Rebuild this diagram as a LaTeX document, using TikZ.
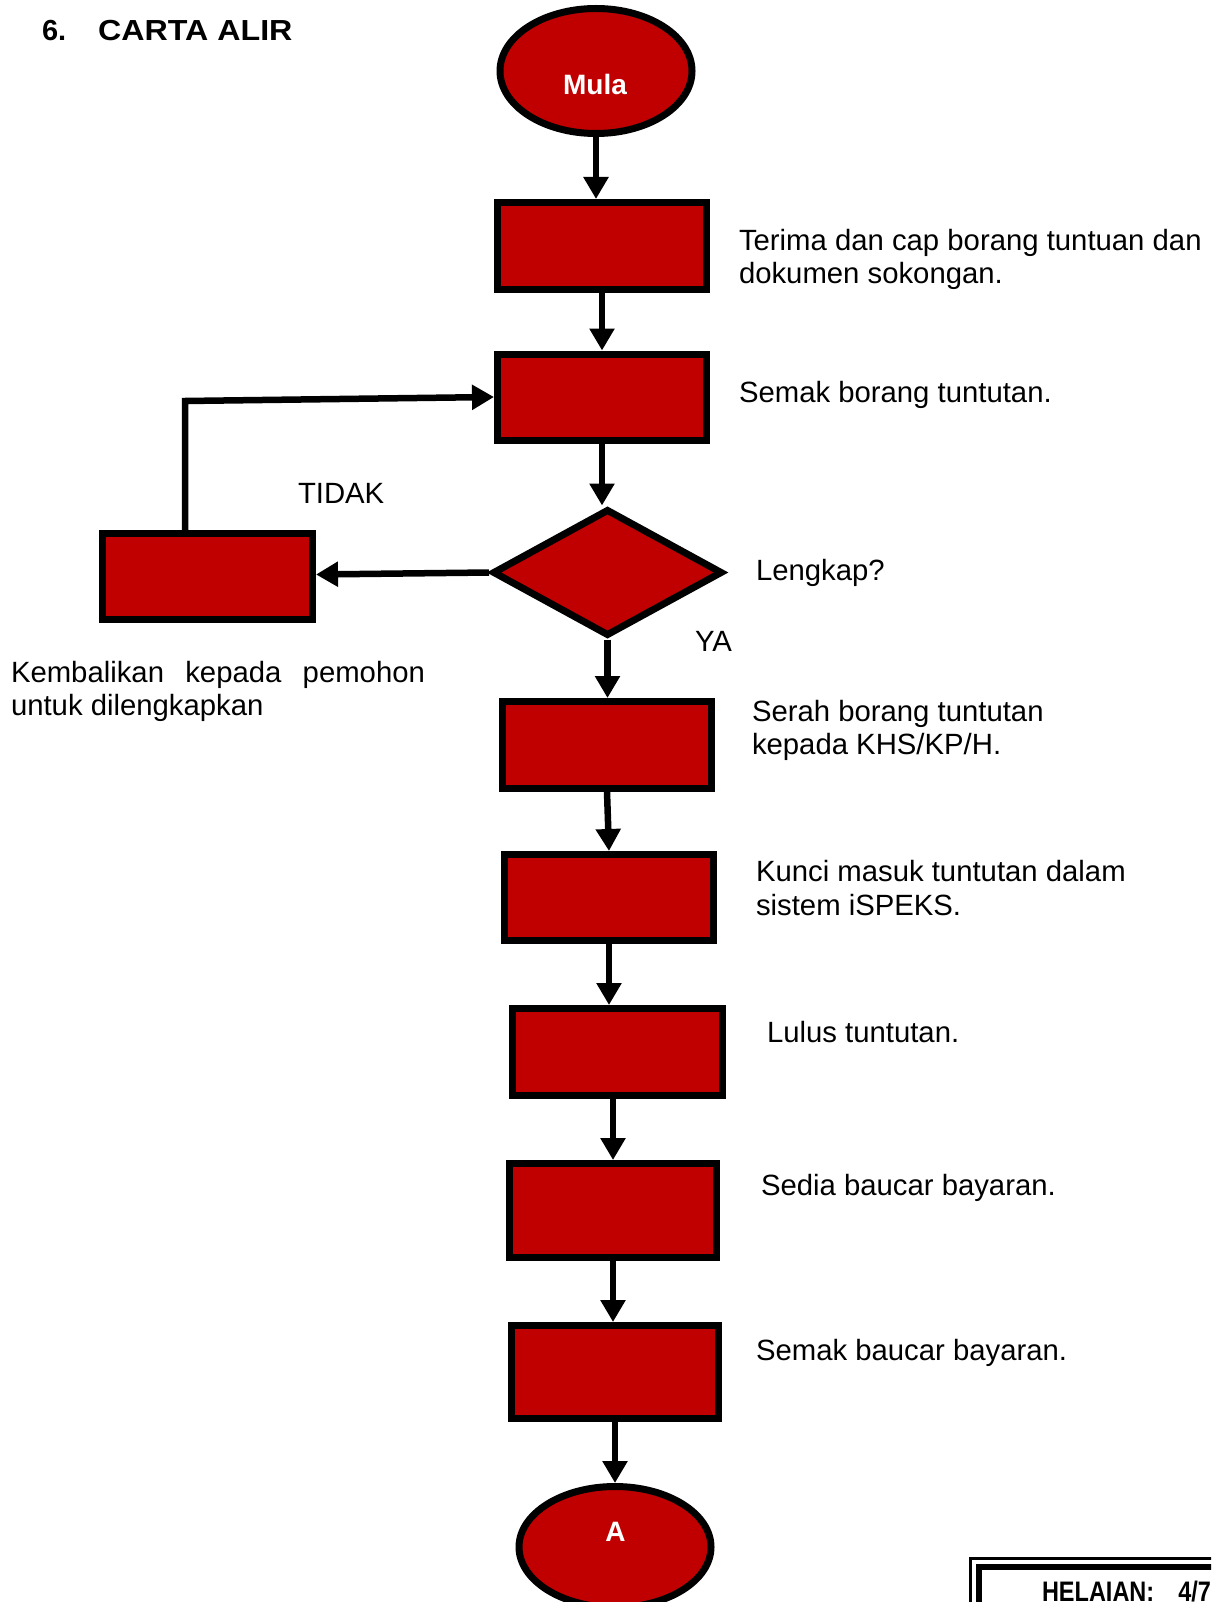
\documentclass[tikz,border=0pt]{standalone}
\usepackage{fontspec}
\usepackage{graphicx}
\setmainfont{Liberation Sans}
\usetikzlibrary{shapes.geometric,arrows.meta}
\definecolor{boxred}{RGB}{192,0,0}
\begin{document}
\begin{tikzpicture}[x=1pt,y=-1pt,
  procbox/.style={rectangle,draw=black,fill=boxred,line width=7pt,inner sep=0pt,minimum width=209pt,minimum height=87pt},
  term/.style={ellipse,draw=black,fill=boxred,line width=7pt,inner sep=0pt,minimum width=192pt,minimum height=125pt},
  decision/.style={diamond,draw=black,fill=boxred,line width=7pt,inner sep=0pt,minimum width=230pt,minimum height=127pt},
  arr/.style={line width=6.5pt,-{Triangle[width=24pt,length=22pt]}},
  lbl/.style={font=\fontsize{29.3}{33}\selectfont,anchor=base west,inner sep=0pt,outer sep=0pt},
  termtext/.style={font=\fontsize{28}{32}\bfseries,text=white,inner sep=0pt,outer sep=0pt},
]
\useasboundingbox (0,0) rectangle (1211,1602);
\clip (0,0) rectangle (1211,1602);
\fill[white] (0,0) rectangle (1211,1602);

% title
\node[lbl,font=\fontsize{29}{33}\bfseries] (title) at (42,41) {6.\hspace{32pt}\scalebox{1.11}[1]{CARTA ALIR}};

% shapes
\node[term] (mula) at (596,71) {};
\node[termtext] (mulat) at (595,84) {Mula};
\node[procbox] (b1) at (602,246) {};
\node[procbox,minimum height=86pt] (b2) at (602,397) {};
\node[decision] (dia) at (607.5,572.5) {};
\node[procbox,minimum width=210pt,minimum height=86pt] (ld) at (207.5,576.5) {};
\node[procbox] (b4) at (607,745) {};
\node[procbox,minimum height=86pt] (b5) at (609,897.5) {};
\node[procbox,minimum width=210pt] (b6) at (617.5,1052) {};
\node[procbox,minimum width=207pt,minimum height=94pt] (b7) at (613,1210.5) {};
\node[procbox,minimum width=207pt,minimum height=93pt] (b8) at (615,1372) {};
\node[term,minimum height=121pt] (ea) at (615,1547) {};
\node[termtext] (eat) at (615.5,1532) {A};

% connectors
\draw[arr] (mula.south) -- (mula.south |- b1.north);
\draw[arr] (b1.south) -- (b2.north);
\draw[arr] (b2.south) -- (b2.south |- dia.north);
\draw[arr] (dia.west) -- ([yshift=-2pt]dia.west -| ld.east);
\draw[arr] ([xshift=-22.5pt]ld.north) -- ([xshift=-22.5pt,yshift=-4pt]ld.north |- b2.west) -- (b2.west);
\draw[arr] (dia.south) -- (dia.south |- b4.north);
\draw[arr] (b4.south) -- (b5.north);
\draw[arr] (b5.south) -- (b5.south |- b6.north);
\draw[arr] (b7.north |- b6.south) -- (b7.north);
\draw[arr] (b7.south) -- (b7.south |- b8.north);
\draw[arr] (b8.south) -- (ea.north);

% labels
\node[lbl] (t1a) at (739,251) {Terima dan cap borang tuntuan dan};
\node[lbl] (t1b) at (739,284) {dokumen sokongan.};
\node[lbl] (t2) at (739,402) {Semak borang tuntutan.};
\node[lbl] (tidak) at (298,503) {TIDAK};
\node[lbl] (lengkap) at (756,580) {Lengkap?};
\node[lbl] (ya) at (695,651) {YA};
\node[lbl] (k1) at (11,682) {\hbox to 414pt{Kembalikan\hfill kepada\hfill pemohon}};
\node[lbl] (k2) at (11,715) {untuk dilengkapkan};
\node[lbl] (s1) at (752,721) {Serah borang tuntutan};
\node[lbl] (s2) at (752,754) {kepada KHS/KP/H.};
\node[lbl] (u1) at (756,881) {Kunci masuk tuntutan dalam};
\node[lbl] (u2) at (756,915) {sistem iSPEKS.};
\node[lbl] (lulus) at (767,1042) {Lulus tuntutan.};
\node[lbl] (sedia) at (761,1195) {Sedia baucar bayaran.};
\node[lbl] (semak2) at (756,1360) {Semak baucar bayaran.};

% page frame box
\draw[line width=2.5pt] (970.25,1558.25) rectangle (1240,1640);
\draw[line width=6pt] (979,1567) rectangle (1240,1640);
\node[lbl,font=\fontsize{23.5}{28}\bfseries] (hel) at (1042,1601) {\scalebox{1}[1.2]{HELAIAN:\hspace{24pt}4/7}};
\end{tikzpicture}
\end{document}
